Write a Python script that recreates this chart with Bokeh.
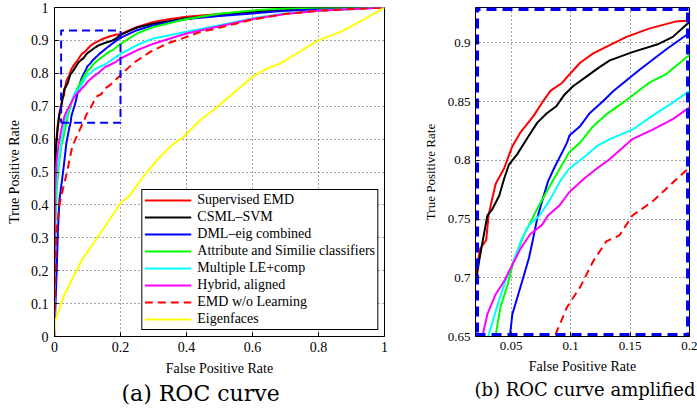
from bokeh.plotting import figure
from bokeh.models import Range1d, FixedTicker, Legend, LegendItem, Title
from bokeh.layouts import row
from bokeh.embed import file_html
from bokeh.resources import INLINE

# ---------------- data ----------------
series_names = ["Supervised EMD", "CSML\u2013SVM", "DML\u2013eig combined",
                "Attribute and Similie classifiers", "Multiple LE+comp",
                "Hybrid, aligned", "EMD w/o Learning", "Eigenfaces"]

sup_emd_fpr = [0.000, 0.000, 0.002, 0.005, 0.010, 0.015, 0.021, 0.024, 0.029, 0.031, 0.034, 0.037,
               0.044, 0.051, 0.058, 0.069, 0.076, 0.083, 0.093, 0.099, 0.108, 0.119, 0.127, 0.147,
               0.166, 0.188, 0.200, 0.250, 0.300, 0.350, 0.400, 0.500, 0.600, 0.700, 0.850, 1.000]
sup_emd_tpr = [0.000, 0.350, 0.500, 0.590, 0.645, 0.680, 0.708, 0.725, 0.732, 0.753, 0.767, 0.780,
               0.793, 0.812, 0.824, 0.838, 0.849, 0.859, 0.866, 0.873, 0.883, 0.891, 0.895, 0.905,
               0.912, 0.918, 0.919, 0.941, 0.956, 0.965, 0.972, 0.980, 0.988, 0.994, 0.997, 1.000]

csml_fpr = [0.000, 0.000, 0.002, 0.005, 0.010, 0.015, 0.021, 0.023, 0.026, 0.030, 0.034, 0.040,
            0.044, 0.048, 0.055, 0.065, 0.072, 0.080, 0.088, 0.095, 0.102, 0.113, 0.124, 0.133,
            0.152, 0.174, 0.186, 0.198, 0.250, 0.300, 0.350, 0.400, 0.500, 0.600, 0.700, 0.850, 1.000]
csml_tpr = [0.000, 0.300, 0.480, 0.580, 0.635, 0.675, 0.701, 0.714, 0.731, 0.753, 0.758, 0.770,
            0.784, 0.796, 0.805, 0.821, 0.832, 0.840, 0.846, 0.856, 0.863, 0.871, 0.879, 0.885,
            0.892, 0.899, 0.905, 0.916, 0.939, 0.951, 0.959, 0.967, 0.977, 0.987, 0.992, 0.997, 1.000]

dml_fpr = [0.000, 0.003, 0.007, 0.010, 0.015, 0.023, 0.028, 0.036, 0.045, 0.049, 0.051, 0.056,
           0.061, 0.065, 0.068, 0.072, 0.076, 0.081, 0.086, 0.097, 0.099, 0.108, 0.116, 0.127,
           0.136, 0.158, 0.180, 0.198, 0.250, 0.300, 0.350, 0.400, 0.500, 0.600, 0.700, 0.850, 1.000]
dml_tpr = [0.000, 0.100, 0.210, 0.315, 0.416, 0.477, 0.517, 0.588, 0.635, 0.651, 0.669, 0.686,
           0.703, 0.717, 0.731, 0.751, 0.765, 0.782, 0.793, 0.815, 0.821, 0.829, 0.840, 0.850,
           0.859, 0.877, 0.894, 0.907, 0.931, 0.946, 0.956, 0.965, 0.974, 0.982, 0.990, 0.997, 1.000]

attr_fpr = [0.000, 0.001, 0.003, 0.007, 0.013, 0.020, 0.026, 0.032, 0.037, 0.041, 0.047, 0.052,
            0.061, 0.072, 0.083, 0.091, 0.099, 0.108, 0.119, 0.130, 0.144, 0.166, 0.180, 0.198,
            0.250, 0.300, 0.350, 0.400, 0.500, 0.600, 0.700, 0.800, 1.000]
attr_tpr = [0.000, 0.200, 0.350, 0.450, 0.520, 0.575, 0.600, 0.630, 0.651, 0.675, 0.694, 0.714,
            0.737, 0.759, 0.779, 0.793, 0.807, 0.815, 0.829, 0.839, 0.849, 0.866, 0.873, 0.888,
            0.921, 0.941, 0.953, 0.965, 0.981, 0.991, 0.997, 1.000, 1.000]

mle_fpr = [0.000, 0.001, 0.003, 0.008, 0.015, 0.022, 0.027, 0.031, 0.038, 0.045, 0.052, 0.058,
           0.065, 0.074, 0.083, 0.091, 0.099, 0.113, 0.122, 0.133, 0.152, 0.169, 0.186, 0.200,
           0.250, 0.300, 0.350, 0.400, 0.500, 0.600, 0.700, 0.800, 1.000]
mle_tpr = [0.000, 0.200, 0.400, 0.500, 0.550, 0.600, 0.625, 0.651, 0.675, 0.697, 0.714, 0.731,
           0.745, 0.753, 0.767, 0.782, 0.793, 0.804, 0.812, 0.818, 0.826, 0.838, 0.849, 0.859,
           0.886, 0.906, 0.916, 0.926, 0.946, 0.967, 0.982, 0.990, 1.000]

hyb_fpr = [0.000, 0.001, 0.002, 0.006, 0.012, 0.020, 0.026, 0.030, 0.037, 0.044, 0.051, 0.058,
           0.066, 0.076, 0.081, 0.091, 0.099, 0.111, 0.122, 0.133, 0.152, 0.169, 0.186, 0.200,
           0.250, 0.300, 0.350, 0.400, 0.500, 0.600, 0.700, 0.800, 1.000]
hyb_tpr = [0.000, 0.300, 0.450, 0.530, 0.580, 0.625, 0.651, 0.669, 0.686, 0.697, 0.711, 0.725,
           0.737, 0.745, 0.753, 0.762, 0.773, 0.784, 0.793, 0.801, 0.818, 0.826, 0.835, 0.845,
           0.870, 0.890, 0.906, 0.921, 0.943, 0.965, 0.980, 0.990, 1.000]

emd_fpr = [0.000, 0.003, 0.006, 0.016, 0.030, 0.038, 0.054, 0.075, 0.087, 0.097, 0.108, 0.119,
           0.130, 0.141, 0.152, 0.169, 0.186, 0.200, 0.240, 0.290, 0.340, 0.390, 0.440, 0.490,
           0.594, 0.695, 0.796, 1.000]
emd_tpr = [0.000, 0.200, 0.325, 0.406, 0.467, 0.500, 0.578, 0.625, 0.651, 0.675, 0.692, 0.714,
           0.731, 0.736, 0.753, 0.765, 0.781, 0.794, 0.832, 0.865, 0.890, 0.907, 0.925, 0.936,
           0.962, 0.980, 0.990, 1.000]

eig_fpr = [0.000, 0.003, 0.028, 0.058, 0.084, 0.119, 0.160, 0.200, 0.230, 0.270, 0.311, 0.351,
           0.392, 0.442, 0.483, 0.553, 0.601, 0.645, 0.685, 0.735, 0.800, 0.867, 0.927, 1.000]
eig_tpr = [0.000, 0.050, 0.123, 0.184, 0.234, 0.285, 0.345, 0.406, 0.431, 0.487, 0.537, 0.578,
           0.608, 0.658, 0.689, 0.749, 0.790, 0.815, 0.830, 0.861, 0.900, 0.926, 0.958, 1.000]

series_fpr = [sup_emd_fpr, csml_fpr, dml_fpr, attr_fpr, mle_fpr, hyb_fpr, emd_fpr, eig_fpr]
series_tpr = [sup_emd_tpr, csml_tpr, dml_tpr, attr_tpr, mle_tpr, hyb_tpr, emd_tpr, eig_tpr]

# zoomed region (shown in panel b)
zoom_x_bounds = [0.02, 0.2]
zoom_y_bounds = [0.65, 0.93]

left_x_ticks = [0.0, 0.2, 0.4, 0.6, 0.8, 1.0]
left_x_labels = ["0", "0.2", "0.4", "0.6", "0.8", "1"]
left_y_ticks = [0.0, 0.1, 0.2, 0.3, 0.4, 0.5, 0.6, 0.7, 0.8, 0.9, 1.0]
left_y_labels = ["0", "0.1", "0.2", "0.3", "0.4", "0.5", "0.6", "0.7", "0.8", "0.9", "1"]
right_x_ticks = [0.05, 0.1, 0.15, 0.2]
right_x_labels = ["0.05", "0.1", "0.15", "0.2"]
right_y_ticks = [0.65, 0.7, 0.75, 0.8, 0.85, 0.9]
right_y_labels = ["0.65", "0.7", "0.75", "0.8", "0.85", "0.9"]

x_title = "False Positive Rate"
y_title = "True Positive Rate"
caption_a = "(a) ROC curve"
caption_b = "(b) ROC curve amplified"

# ---------------- styles ----------------
colors = ["#ff0000", "#000000", "#0000ff", "#00ff00", "#00ffff", "#ff00ff", "#ff0000", "#ffff00"]
dashes = ["solid"] * 6 + ["8 5"] + ["solid"]
SERIF = "Liberation Serif, Tinos, Times New Roman, Times, Nimbus Roman, serif"
CAP_FONT = "DejaVu Serif"


def style_axes(p, xt, xl, yt, yl, tick_size, xlab_size, ylab_size, ylab_standoff, ytick_standoff):
    p.xaxis.ticker = FixedTicker(ticks=xt)
    p.yaxis.ticker = FixedTicker(ticks=yt)
    p.xaxis.major_label_overrides = {t: l for t, l in zip(xt, xl)}
    p.yaxis.major_label_overrides = {t: l for t, l in zip(yt, yl)}
    for ax in (p.xaxis[0], p.yaxis[0]):
        ax.major_tick_in = 4
        ax.major_tick_out = 0
        ax.minor_tick_line_color = None
        ax.axis_line_color = "black"
        ax.major_tick_line_color = "black"
        ax.major_label_text_font = SERIF
        ax.major_label_text_font_size = tick_size
        ax.major_label_text_color = "black"
        ax.axis_label_text_font = SERIF
        ax.axis_label_text_font_style = "normal"
        ax.axis_label_text_color = "black"
    p.xaxis.axis_label_text_font_size = xlab_size
    p.yaxis.axis_label_text_font_size = ylab_size
    p.xaxis.axis_label = x_title
    p.yaxis.axis_label = y_title
    p.xaxis.major_label_standoff = 5
    p.xaxis.axis_label_standoff = 6
    p.yaxis.major_label_standoff = ytick_standoff
    p.yaxis.axis_label_standoff = ylab_standoff
    for g in (p.xgrid[0], p.ygrid[0]):
        g.grid_line_color = "#333333"
        g.grid_line_dash = "1 3"
        g.grid_line_width = 1
        g.grid_line_alpha = 0.9
    p.xgrid.ticker = FixedTicker(ticks=xt)
    p.ygrid.ticker = FixedTicker(ticks=yt)
    p.outline_line_color = "black"
    p.outline_line_width = 1
    p.outline_line_alpha = 1.0
    p.background_fill_color = "white"
    p.border_fill_color = "white"


box_xs = [zoom_x_bounds[0], zoom_x_bounds[1], zoom_x_bounds[1], zoom_x_bounds[0], zoom_x_bounds[0]]
box_ys = [zoom_y_bounds[0], zoom_y_bounds[0], zoom_y_bounds[1], zoom_y_bounds[1], zoom_y_bounds[0]]

# ---------------- panel (a) ----------------
p1 = figure(width=418, height=412, output_backend="svg", toolbar_location=None,
            x_range=Range1d(0, 1), y_range=Range1d(0, 1),
            min_border_left=54, min_border_right=34, min_border_top=7, min_border_bottom=75)
style_axes(p1, left_x_ticks, left_x_labels, left_y_ticks, left_y_labels,
           "14px", "14px", "14px", 6, 6)

items = []
for name, fx, ty, c, d in zip(series_names, series_fpr, series_tpr, colors, dashes):
    r = p1.line(fx, ty, line_color=c, line_width=2, line_dash=d, line_join="round")
    items.append(LegendItem(label=name, renderers=[r]))

p1.line(box_xs, box_ys, line_color="#0000ff", line_width=2, line_dash="8 5")

legend = Legend(items=items, location="bottom_right", margin=6, padding=2, spacing=1,
                glyph_width=47, glyph_height=16, label_height=16, label_standoff=6,
                label_text_font=SERIF, label_text_font_size="14px", label_text_color="black",
                border_line_color="black", border_line_width=1, border_line_alpha=1.0,
                background_fill_color="white", background_fill_alpha=1.0)
p1.add_layout(legend)

p1.add_layout(Title(text=caption_a, align="left", offset=67, standoff=0,
                    text_font=CAP_FONT, text_font_size="22px", text_font_style="normal",
                    text_color="black"), "below")

# ---------------- panel (b) ----------------
p2 = figure(width=279, height=412, output_backend="svg", toolbar_location=None,
            x_range=Range1d(zoom_x_bounds[0], zoom_x_bounds[1]),
            y_range=Range1d(zoom_y_bounds[0], zoom_y_bounds[1]),
            min_border_left=57, min_border_right=8, min_border_top=5, min_border_bottom=76)
style_axes(p2, right_x_ticks, right_x_labels, right_y_ticks, right_y_labels,
           "13px", "14px", "13px", 7, 5)

for fx, ty, c, d in zip(series_fpr, series_tpr, colors, dashes):
    p2.line(fx, ty, line_color=c, line_width=2, line_dash=d, line_join="round")

p2.line(box_xs, box_ys, line_color="#0000ff", line_width=7, line_dash="10 6")

p2.add_layout(Title(text=caption_b, align="left", offset=-1, standoff=0,
                    text_font=CAP_FONT, text_font_size="18px", text_font_style="normal",
                    text_color="black"), "below")

layout = row(p1, p2)
open("out.html", "w").write(file_html(layout, INLINE))
